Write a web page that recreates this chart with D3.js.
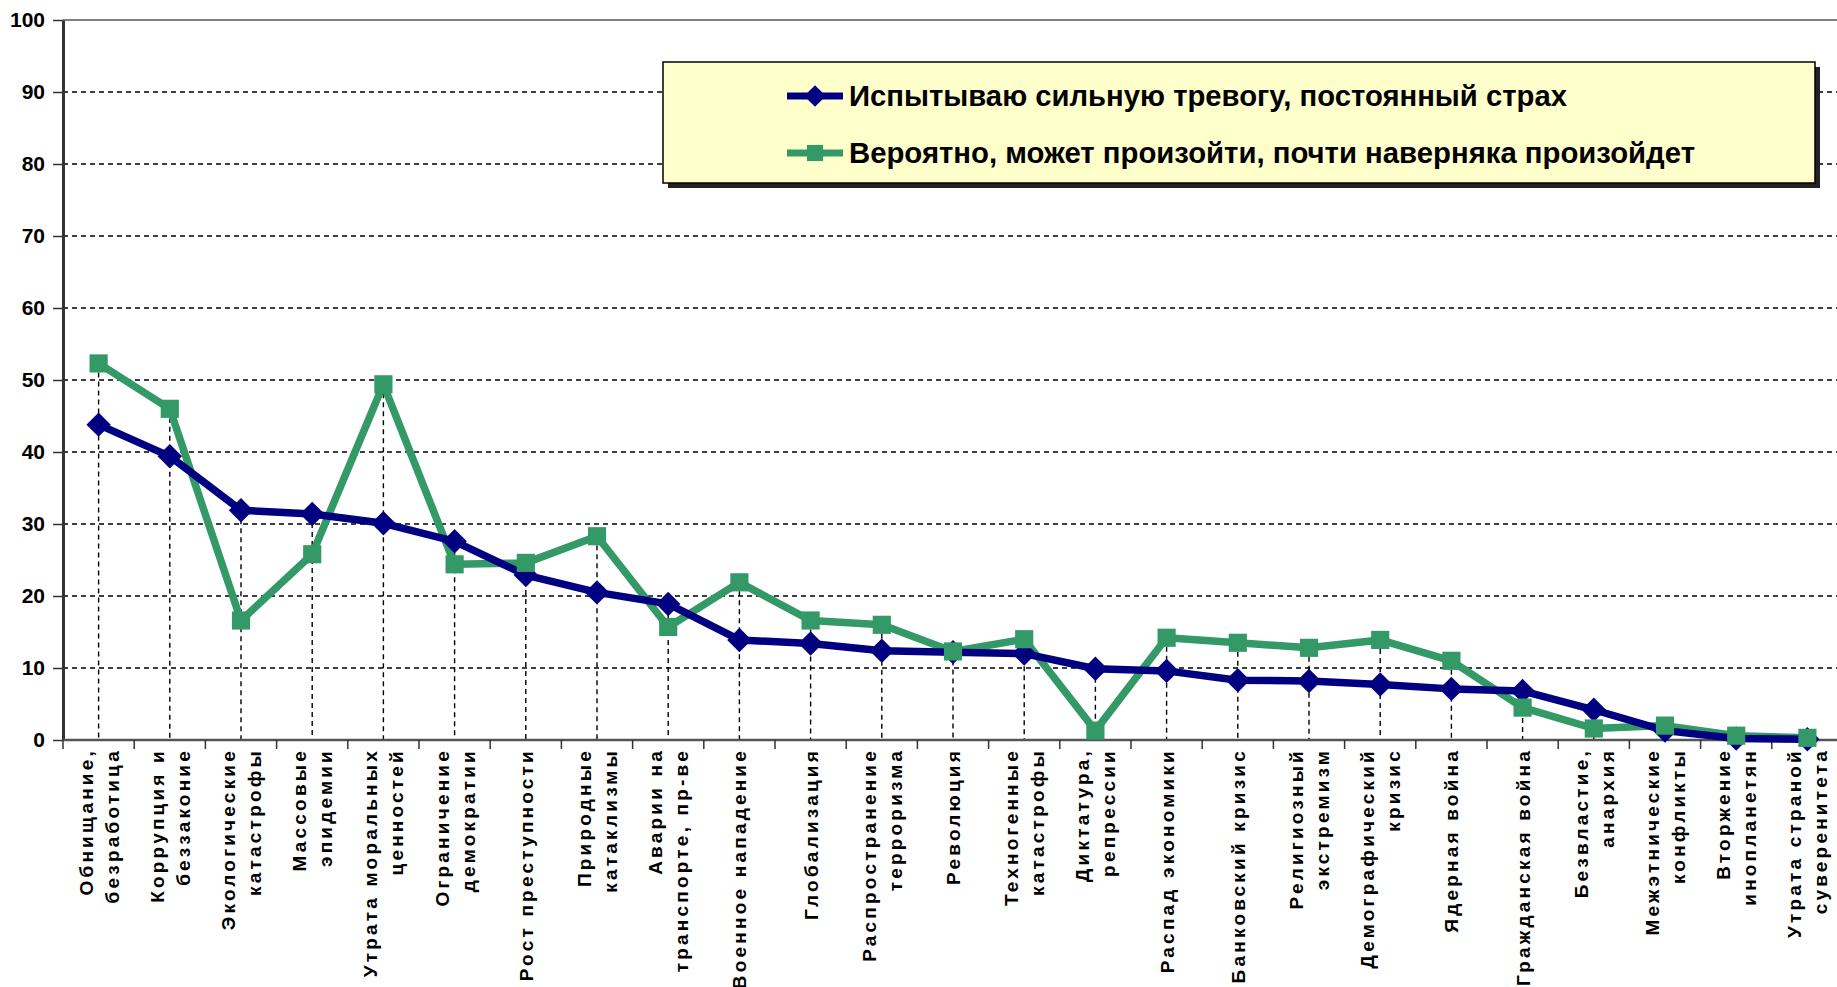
<!DOCTYPE html>
<html>
<head>
<meta charset="utf-8">
<script src="https://cdn.jsdelivr.net/npm/d3@7"></script>
<style>
  body { margin: 0; background: #fff; }
  svg { display: block; }
</style>
</head>
<body>
<div id="chart"></div>
<script>
let svgWidth = 1837;
let svgHeight = 987;

// categories, each split into the lines it is drawn on
let categories = [
    ["Обнищание,", "безработица"],
    ["Коррупция и", "беззаконие"],
    ["Экологические", "катастрофы"],
    ["Массовые", "эпидемии"],
    ["Утрата моральных", "ценностей"],
    ["Ограничение", "демократии"],
    ["Рост преступности"],
    ["Природные", "катаклизмы"],
    ["Аварии на", "транспорте, пр-ве"],
    ["Военное нападение"],
    ["Глобализация"],
    ["Распространение", "терроризма"],
    ["Революция"],
    ["Техногенные", "катастрофы"],
    ["Диктатура,", "репрессии"],
    ["Распад экономики"],
    ["Банковский кризис"],
    ["Религиозный", "экстремизм"],
    ["Демографический", "кризис"],
    ["Ядерная война"],
    ["Гражданская война"],
    ["Безвластие,", "анархия"],
    ["Межэтнические", "конфликты"],
    ["Вторжение", "инопланетян"],
    ["Утрата страной", "суверенитета"]
];

let fearValues = [43.8, 39.4, 31.9, 31.4, 30.1, 27.6, 22.9, 20.5, 18.9, 13.9, 13.4, 12.4, 12.2, 12.0,
    9.9, 9.6, 8.3, 8.2, 7.7, 7.1, 6.8, 4.2, 1.3, 0.2, 0.1];
let likelyValues = [52.3, 46.0, 16.6, 25.8, 49.4, 24.4, 24.6, 28.3, 15.7, 21.9, 16.6, 16.0, 12.3, 14.0,
    1.3, 14.2, 13.5, 12.8, 13.9, 11.0, 4.5, 1.6, 2.0, 0.6, 0.3];

let seriesNames = [
    "Испытываю сильную тревогу, постоянный страх",
    "Вероятно, может произойти, почти наверняка произойдет"
];

let yTicks = [0, 10, 20, 30, 40, 50, 60, 70, 80, 90, 100];

let blue = "#000080";
let green = "#339966";

let mar = { top: 20, left: 63, bottom: 247 };
let plotRight = 1843;
let hgt = svgHeight - mar.top - mar.bottom;

let svg = d3.select("#chart")
    .append("svg")
    .attr("width", svgWidth)
    .attr("height", svgHeight);

let keys = categories.map((c, i) => i);

let x = d3.scaleBand()
    .domain(keys)
    .range([mar.left, plotRight])
    .padding(0);

let y = d3.scaleLinear()
    .domain([0, 100])
    .range([mar.top + hgt, mar.top]);

let cx = i => x(i) + x.bandwidth() / 2;

// gridlines
svg.append("g")
    .selectAll("line")
    .data(yTicks.filter(t => t > 0))
    .enter()
    .append("line")
    .attr("x1", mar.left)
    .attr("x2", plotRight)
    .attr("y1", d => y(d))
    .attr("y2", d => y(d))
    .attr("stroke", d => d === 100 ? "#808080" : "#000")
    .attr("stroke-width", d => d === 100 ? 2 : 1.4)
    .attr("stroke-dasharray", d => d === 100 ? null : "5,4");

// drop lines from the higher point down to the axis
svg.append("g")
    .selectAll("line")
    .data(keys)
    .enter()
    .append("line")
    .attr("x1", d => cx(d))
    .attr("x2", d => cx(d))
    .attr("y1", d => y(Math.max(fearValues[d], likelyValues[d])))
    .attr("y2", y(0))
    .attr("stroke", "#000")
    .attr("stroke-width", 1.4)
    .attr("stroke-dasharray", "5,4");

// y axis
let yAxis = svg.append("g")
    .attr("transform", `translate(${mar.left}, 0)`)
    .call(d3.axisLeft(y).tickValues(yTicks).tickSize(10).tickPadding(8).tickSizeOuter(0));
yAxis.select(".domain").attr("stroke", "#333").attr("stroke-width", 3);
yAxis.selectAll(".tick line").attr("stroke", "#333").attr("stroke-width", 1.5);
yAxis.selectAll("text")
    .attr("font-family", "'Liberation Sans', Arial, sans-serif")
    .attr("font-weight", "bold")
    .attr("font-size", 21)
    .attr("fill", "#000");

// x axis line and boundary ticks
svg.append("line")
    .attr("x1", mar.left)
    .attr("x2", plotRight)
    .attr("y1", y(0))
    .attr("y2", y(0))
    .attr("stroke", "#555")
    .attr("stroke-width", 2.5);

svg.append("g")
    .selectAll("line")
    .data(keys.concat([keys.length]))
    .enter()
    .append("line")
    .attr("x1", d => d < keys.length ? x(d) : plotRight)
    .attr("x2", d => d < keys.length ? x(d) : plotRight)
    .attr("y1", y(0))
    .attr("y2", y(0) + 9)
    .attr("stroke", "#333")
    .attr("stroke-width", 1.5);

// category labels
let lineGap = 26;
let labels = svg.append("g")
    .selectAll("g")
    .data(keys)
    .enter()
    .append("g")
    .attr("transform", d => `translate(${cx(d)}, ${y(0) + 8}) rotate(-90)`);

labels.selectAll("text")
    .data(d => categories[d].map((t, j) => ({ t: t, j: j, n: categories[d].length })))
    .enter()
    .append("text")
    .attr("x", 0)
    .attr("y", d => (d.j - (d.n - 1) / 2) * lineGap)
    .attr("dy", "0.37em")
    .attr("text-anchor", "end")
    .attr("font-family", "'Liberation Sans', Arial, sans-serif")
    .attr("font-weight", "bold")
    .attr("font-size", 19)
    .attr("letter-spacing", 3.2)
    .attr("fill", "#000")
    .text(d => d.t);

// lines
let line = d3.line()
    .x((d, i) => cx(i))
    .y(d => y(d));

svg.append("path")
    .datum(likelyValues)
    .attr("d", line)
    .attr("fill", "none")
    .attr("stroke", green)
    .attr("stroke-width", 7.5)
    .attr("stroke-linejoin", "round");

svg.append("path")
    .datum(fearValues)
    .attr("d", line)
    .attr("fill", "none")
    .attr("stroke", blue)
    .attr("stroke-width", 7.5)
    .attr("stroke-linejoin", "round");

let diamond = d3.symbol().type(d3.symbolDiamond2).size(380);
let square = d3.symbol().type(d3.symbolSquare).size(330);

svg.append("g")
    .selectAll("path")
    .data(fearValues)
    .enter()
    .append("path")
    .attr("d", diamond)
    .attr("transform", (d, i) => `translate(${cx(i)}, ${y(d)})`)
    .attr("fill", blue);

svg.append("g")
    .selectAll("path")
    .data(likelyValues)
    .enter()
    .append("path")
    .attr("d", square)
    .attr("transform", (d, i) => `translate(${cx(i)}, ${y(d)})`)
    .attr("fill", green);

// legend
let lg = svg.append("g");
lg.append("rect")
    .attr("x", 668).attr("y", 67)
    .attr("width", 1152).attr("height", 121)
    .attr("fill", "#222");
lg.append("rect")
    .attr("x", 663).attr("y", 62)
    .attr("width", 1152).attr("height", 121)
    .attr("fill", "#ffffcc")
    .attr("stroke", "#000")
    .attr("stroke-width", 1.5);

let legendDiamond = d3.symbol().type(d3.symbolDiamond2).size(300);
let legendSquare = d3.symbol().type(d3.symbolSquare).size(260);

let legendRows = [
    { name: seriesNames[0], color: blue, sym: legendDiamond, cy: 96, len: 718 },
    { name: seriesNames[1], color: green, sym: legendSquare, cy: 153, len: 846 }
];

legendRows.forEach(function (r) {
    lg.append("line")
        .attr("x1", 787).attr("x2", 843)
        .attr("y1", r.cy).attr("y2", r.cy)
        .attr("stroke", r.color)
        .attr("stroke-width", 7);
    lg.append("path")
        .attr("d", r.sym)
        .attr("transform", `translate(815, ${r.cy})`)
        .attr("fill", r.color);
    lg.append("text")
        .attr("x", 849)
        .attr("y", r.cy)
        .attr("dy", "0.36em")
        .attr("font-family", "'Liberation Sans Narrow', 'Liberation Sans', Arial, sans-serif")
        .attr("font-weight", "bold")
        .attr("font-size", 29)
        .attr("textLength", r.len)
        .attr("lengthAdjust", "spacingAndGlyphs")
        .attr("fill", "#000")
        .text(r.name);
});
</script>
</body>
</html>
